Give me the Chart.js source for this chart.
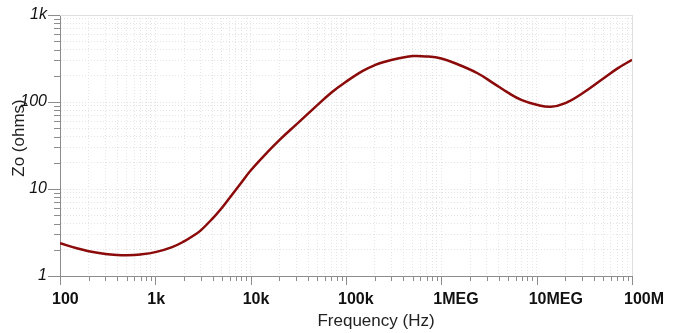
<!DOCTYPE html>
<html>
<head>
<meta charset="utf-8">
<script src="https://cdn.jsdelivr.net/npm/chart.js@4/dist/chart.umd.min.js"></script>
<style>
  html, body { margin: 0; padding: 0; background: #fff; overflow: hidden; }
  canvas { display: block; }
</style>
</head>
<body>
<canvas id="myChart" width="676" height="333"></canvas>
<script>
/* data */
const freqs = [100, 150, 200, 300, 400, 500, 700, 1e3, 1.5e3, 2e3, 2.5e3, 3e3, 4e3, 5e3, 6e3, 8e3, 1e4, 1.5e4, 2e4, 3e4, 5e4, 7e4, 1e5, 1.5e5, 2e5, 2.5e5, 3.5e5, 5e5, 7e5, 1e6, 1.5e6, 2.4e6, 3.5e6, 5e6, 7e6, 1e7, 1.4e7, 2e7, 3e7, 5e7, 7e7, 1e8];
const zo = [2.38, 2.08, 1.93, 1.79, 1.74, 1.73, 1.77, 1.88, 2.15, 2.5, 2.9, 3.35, 4.6, 6.1, 7.9, 11.9, 16.3, 26.5, 36.5, 55, 92, 128, 171, 228, 265, 288, 316, 337, 334, 316, 270, 214, 165, 128, 105, 93, 88, 97, 125, 186, 242, 305];

const xTickValues = [100, 1e3, 1e4, 1e5, 1e6, 1e7, 1e8];
const xTickLabels = ['100', '1k', '10k', '100k', '1MEG', '10MEG', '100M'];
const yTickValues = [1, 10, 100, 1000];
const yTickLabels = ['1', '10', '100', '1k'];

const FONT = "'Liberation Sans', Arial, sans-serif";

function decadeTicks(decades) {
  const out = [];
  for (let i = 0; i < decades.length - 1; i++) {
    for (let m = 1; m < 10; m++) {
      out.push({ value: m * decades[i] });
    }
  }
  out.push({ value: decades[decades.length - 1] });
  return out;
}

function labelFor(values, labels, v) {
  const i = values.indexOf(v);
  return i >= 0 ? labels[i] : '';
}

/* tick marks, frame and axis titles */
const framePlugin = {
  id: 'frame',
  afterDraw(chart) {
    const ctx = chart.ctx;
    const a = chart.chartArea;
    const xs = chart.scales.x;
    const ys = chart.scales.y;
    ctx.save();
    // light frame top / right
    ctx.strokeStyle = '#dedede';
    ctx.lineWidth = 1;
    ctx.beginPath();
    ctx.moveTo(a.left, a.top + 0.5);
    ctx.lineTo(a.right + 0.5, a.top + 0.5);
    ctx.lineTo(a.right + 0.5, a.bottom);
    ctx.stroke();

    // tick marks
    ctx.strokeStyle = '#8c8c8c';
    ctx.beginPath();
    xs.ticks.forEach(function(t) {
      const px = Math.round(xs.getPixelForValue(t.value)) + 0.5;
      const len = xTickValues.indexOf(t.value) >= 0 ? 9 : 5;
      ctx.moveTo(px, a.bottom);
      ctx.lineTo(px, a.bottom + len);
    });
    ys.ticks.forEach(function(t) {
      const py = Math.round(ys.getPixelForValue(t.value)) + 0.5;
      const len = yTickValues.indexOf(t.value) >= 0 ? 12 : 6;
      ctx.moveTo(a.left, py);
      ctx.lineTo(a.left - len, py);
    });
    ctx.stroke();

    // axis titles
    ctx.fillStyle = '#222';
    ctx.font = '17px ' + FONT;
    ctx.textAlign = 'center';
    ctx.textBaseline = 'middle';
    ctx.fillText('Frequency (Hz)', 376, 321);
    ctx.translate(19, 138);
    ctx.rotate(-Math.PI / 2);
    ctx.fillText('Zo (ohms)', 0, 0);
    ctx.restore();
  }
};

const ctx = document.getElementById('myChart').getContext('2d');

// eslint-disable-next-line no-undef
const chart = new Chart(ctx, {
  type: 'line',
  data: {
    datasets: [{
      label: 'Zo',
      data: freqs.map(function(f, i) { return { x: f, y: zo[i] }; }),
      borderColor: '#8b0a0a',
      borderWidth: 2.5,
      pointRadius: 0,
      tension: 0.4,
      fill: false
    }]
  },
  options: {
    responsive: false,
    animation: false,
    devicePixelRatio: 1,
    layout: { padding: { left: 0, right: 44, top: 15, bottom: 0 } },
    plugins: {
      legend: { display: false },
      tooltip: { enabled: false }
    },
    scales: {
      x: {
        type: 'logarithmic',
        min: 100,
        max: 1e8,
        afterBuildTicks: function(scale) { scale.ticks = decadeTicks(xTickValues); },
        afterFit: function(scale) {
          scale.height = 57;
          scale.paddingLeft = 0;
          scale.paddingRight = 0;
        },
        border: { display: true, color: '#8c8c8c', width: 1, dash: [1, 2] },
        grid: { color: '#e4e4e4', lineWidth: 1, drawTicks: false },
        ticks: {
          autoSkip: false,
          maxRotation: 0,
          minRotation: 0,
          align: 'start',
          labelOffset: -8,
          padding: 14,
          color: '#111',
          font: { family: FONT, size: 16, weight: 'bold' },
          callback: function(v) { return labelFor(xTickValues, xTickLabels, v); }
        }
      },
      y: {
        type: 'logarithmic',
        min: 1,
        max: 1000,
        afterBuildTicks: function(scale) { scale.ticks = decadeTicks(yTickValues); },
        afterFit: function(scale) {
          scale.width = 60;
          scale.paddingTop = 0;
          scale.paddingBottom = 0;
        },
        border: { display: true, color: '#8c8c8c', width: 1, dash: [1, 2] },
        grid: { color: '#e4e4e4', lineWidth: 1, drawTicks: false },
        ticks: {
          autoSkip: false,
          padding: 13,
          color: '#111',
          font: { family: FONT, size: 16, style: 'italic' },
          callback: function(v) { return labelFor(yTickValues, yTickLabels, v); }
        }
      }
    }
  },
  plugins: [framePlugin]
});
</script>
</body>
</html>
